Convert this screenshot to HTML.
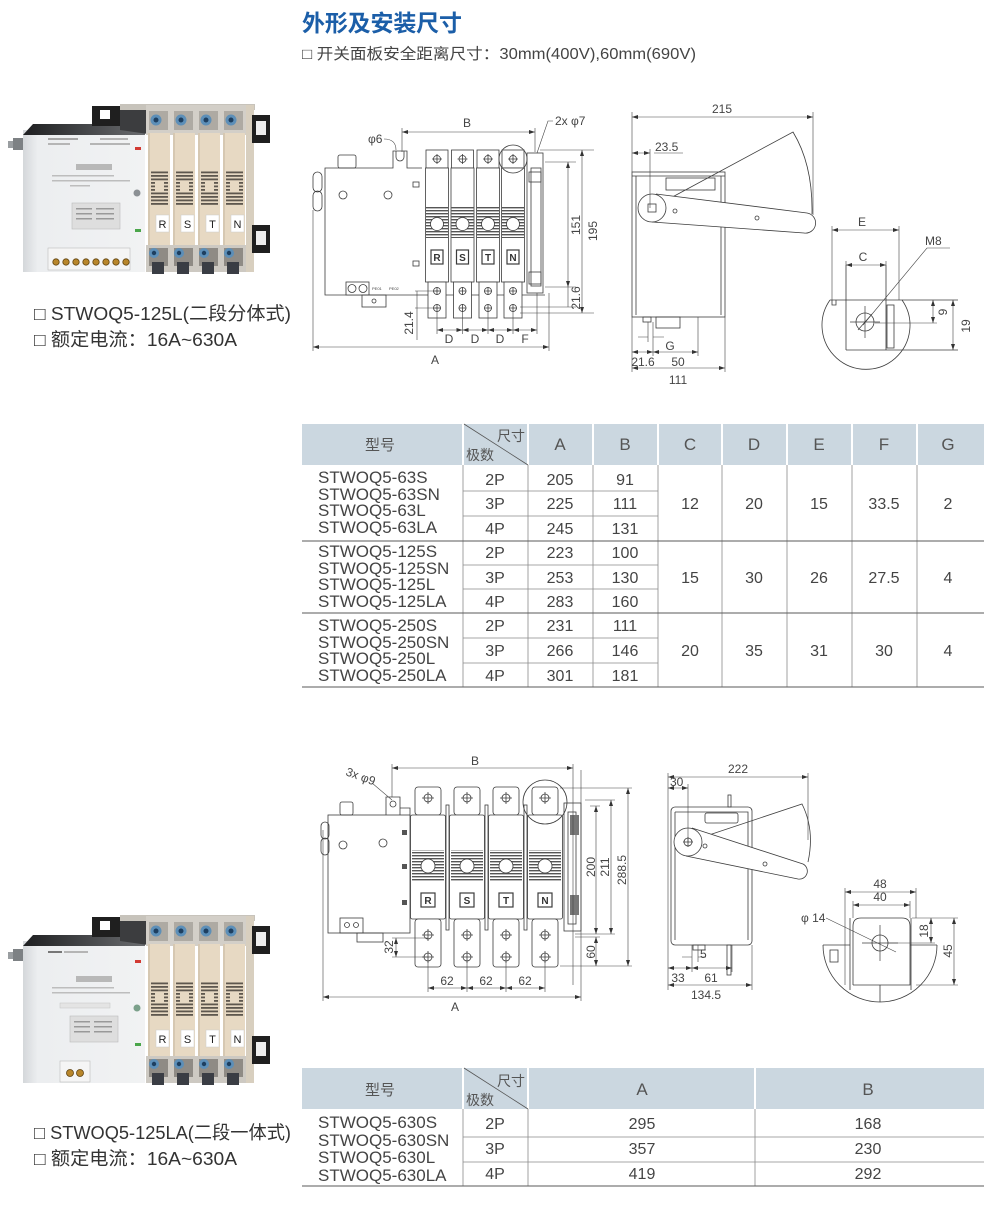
<!DOCTYPE html>
<html><head><meta charset="utf-8">
<style>
html,body{margin:0;padding:0;background:#fff;}
svg{display:block;}
text{font-family:"Liberation Sans","Noto Sans CJK SC",sans-serif;}
.d{marker-start:url(#ar);marker-end:url(#ar);}
.dt{font-size:12px;fill:#444;stroke:none;}
.lb{font-size:10px;font-weight:bold;fill:#333;stroke:none;text-anchor:middle;}
.tc{font-size:16px;fill:#444;text-anchor:middle;}
.th{font-size:17px;fill:#555;text-anchor:middle;}
.tm{font-size:17px;fill:#444;}
</style></head><body>
<svg width="1000" height="1227" viewBox="0 0 1000 1227" xmlns="http://www.w3.org/2000/svg">
<defs>
<marker id="ar" viewBox="0 0 6 4" refX="6" refY="2" markerWidth="6" markerHeight="4" markerUnits="userSpaceOnUse" orient="auto-start-reverse"><path d="M0,0 L6,2 L0,4 z" fill="#333"/></marker>
<pattern id="gr" width="4" height="3" patternUnits="userSpaceOnUse"><rect width="4" height="1.4" fill="#555"/></pattern>
<pattern id="pg" width="4" height="3.5" patternUnits="userSpaceOnUse"><rect width="4" height="1.8" fill="#5e574e"/></pattern>
<linearGradient id="box" x1="0" x2="1" y1="0" y2="0"><stop offset="0" stop-color="#d4d7da"/><stop offset="0.12" stop-color="#eceef0"/><stop offset="1" stop-color="#f1f2f3"/></linearGradient>
<linearGradient id="topb" x1="0" x2="1" y1="0" y2="0"><stop offset="0" stop-color="#1e1f21"/><stop offset="1" stop-color="#6a6c6f"/></linearGradient>
</defs>

<!-- Title -->
<text x="302" y="31" font-size="23" font-weight="bold" fill="#1b5ea8" textLength="160">外形及安装尺寸</text>
<text x="302" y="59" font-size="15.5" fill="#444" textLength="394" lengthAdjust="spacingAndGlyphs">□ 开关面板安全距离尺寸：30mm(400V),60mm(690V)</text>

<!-- ===== Top photo ===== -->
<g id="ph1">
<rect x="8" y="141" width="7" height="7" fill="#9a9ea1"/>
<rect x="13" y="138" width="12" height="12" fill="#7d8184"/>
<rect x="23" y="130" width="122" height="142" fill="url(#box)"/>
<polygon points="23,135 33,124 122,124 145,129 145,135" fill="url(#topb)"/>
<rect x="48" y="138" width="30" height="2" fill="#a5a5a5"/>
<rect x="48" y="143" width="22" height="2" fill="#b5b5b5"/>
<rect x="100" y="138" width="28" height="2" fill="#b5b5b5"/>
<rect x="90" y="143" width="40" height="2" fill="#b5b5b5"/>
<rect x="76" y="164" width="36" height="6" fill="#b8b8b8"/>
<rect x="52" y="175" width="62" height="1.5" fill="#bdbdbd"/>
<rect x="52" y="180" width="78" height="1.5" fill="#bdbdbd"/>
<rect x="70" y="185" width="20" height="1.5" fill="#bdbdbd"/>
<rect x="72" y="203" width="48" height="26" fill="#dedede" stroke="#bbb" stroke-width="0.6"/>
<rect x="76" y="208" width="16" height="1.5" fill="#999"/><rect x="96" y="208" width="18" height="1.5" fill="#999"/>
<rect x="76" y="213" width="16" height="1.5" fill="#999"/><rect x="96" y="213" width="18" height="1.5" fill="#999"/>
<rect x="76" y="218" width="16" height="1.5" fill="#999"/><rect x="96" y="218" width="18" height="1.5" fill="#999"/>
<circle cx="137" cy="193" r="3.5" fill="#8b9094"/>
<rect x="135" y="147" width="6" height="3" fill="#d23a32"/>
<rect x="135" y="229" width="6" height="3" fill="#4aa64a"/>
<rect x="48" y="248" width="82" height="22" fill="#f5f5f5" stroke="#bbb" stroke-width="0.6"/>
<g fill="#b8862b" stroke="#5e4210" stroke-width="0.8">
<circle cx="56" cy="262" r="3.2"/><circle cx="66" cy="262" r="3.2"/><circle cx="76" cy="262" r="3.2"/><circle cx="86" cy="262" r="3.2"/><circle cx="96" cy="262" r="3.2"/><circle cx="106" cy="262" r="3.2"/><circle cx="116" cy="262" r="3.2"/><circle cx="126" cy="262" r="3.2"/>
</g>
<path d="M92,106 H122 V126 H92 Z M100,110 V119 H110 V110 Z" fill="#1f1f1f" fill-rule="evenodd"/>
<polygon points="120,106 148,104 148,134 120,130" fill="#3c3d3f"/>
<rect x="120" y="104" width="135" height="6" fill="#c7c3bb"/>
<g>
<rect x="146" y="105" width="25" height="30" fill="#d3cfc8"/><rect x="149" y="111" width="19" height="19" fill="#aeaaa3"/>
<circle cx="156" cy="120" r="5.5" fill="#5d8fb8"/><circle cx="156" cy="120" r="2.5" fill="#1e3f60"/>
<rect x="148" y="133" width="22" height="112" fill="#e7d9c3"/><rect x="148" y="133" width="2" height="112" fill="#d6c8b2"/>
<rect x="151" y="170" width="17" height="35" fill="url(#pg)"/><rect x="155" y="182" width="9" height="10" fill="#e7d9c3"/>
<rect x="156" y="215" width="13" height="17" fill="#fff" stroke="#ccc" stroke-width="0.5"/><text x="162.5" y="228" font-size="11" fill="#222" text-anchor="middle">R</text>
<rect x="146" y="245" width="25" height="27" fill="#cdc9c2"/><rect x="149" y="248" width="19" height="18" fill="#8f8b85"/>
<circle cx="154" cy="253" r="5" fill="#5d8fb8"/><circle cx="154" cy="253" r="2.2" fill="#1e3f60"/>
<rect x="152" y="262" width="12" height="12" fill="#3a3d44"/>
</g>
<g>
<rect x="171" y="105" width="25" height="30" fill="#d3cfc8"/><rect x="174" y="111" width="19" height="19" fill="#aeaaa3"/>
<circle cx="181" cy="120" r="5.5" fill="#5d8fb8"/><circle cx="181" cy="120" r="2.5" fill="#1e3f60"/>
<rect x="173" y="133" width="22" height="112" fill="#e7d9c3"/><rect x="173" y="133" width="2" height="112" fill="#d6c8b2"/>
<rect x="176" y="170" width="17" height="35" fill="url(#pg)"/><rect x="180" y="182" width="9" height="10" fill="#e7d9c3"/>
<rect x="181" y="215" width="13" height="17" fill="#fff" stroke="#ccc" stroke-width="0.5"/><text x="187.5" y="228" font-size="11" fill="#222" text-anchor="middle">S</text>
<rect x="171" y="245" width="25" height="27" fill="#cdc9c2"/><rect x="174" y="248" width="19" height="18" fill="#8f8b85"/>
<circle cx="179" cy="253" r="5" fill="#5d8fb8"/><circle cx="179" cy="253" r="2.2" fill="#1e3f60"/>
<rect x="177" y="262" width="12" height="12" fill="#3a3d44"/>
</g>
<g>
<rect x="196" y="105" width="25" height="30" fill="#d3cfc8"/><rect x="199" y="111" width="19" height="19" fill="#aeaaa3"/>
<circle cx="206" cy="120" r="5.5" fill="#5d8fb8"/><circle cx="206" cy="120" r="2.5" fill="#1e3f60"/>
<rect x="198" y="133" width="22" height="112" fill="#e7d9c3"/><rect x="198" y="133" width="2" height="112" fill="#d6c8b2"/>
<rect x="201" y="170" width="17" height="35" fill="url(#pg)"/><rect x="205" y="182" width="9" height="10" fill="#e7d9c3"/>
<rect x="206" y="215" width="13" height="17" fill="#fff" stroke="#ccc" stroke-width="0.5"/><text x="212.5" y="228" font-size="11" fill="#222" text-anchor="middle">T</text>
<rect x="196" y="245" width="25" height="27" fill="#cdc9c2"/><rect x="199" y="248" width="19" height="18" fill="#8f8b85"/>
<circle cx="204" cy="253" r="5" fill="#5d8fb8"/><circle cx="204" cy="253" r="2.2" fill="#1e3f60"/>
<rect x="202" y="262" width="12" height="12" fill="#3a3d44"/>
</g>
<g>
<rect x="221" y="105" width="25" height="30" fill="#d3cfc8"/><rect x="224" y="111" width="19" height="19" fill="#aeaaa3"/>
<circle cx="231" cy="120" r="5.5" fill="#5d8fb8"/><circle cx="231" cy="120" r="2.5" fill="#1e3f60"/>
<rect x="223" y="133" width="22" height="112" fill="#e7d9c3"/><rect x="223" y="133" width="2" height="112" fill="#d6c8b2"/>
<rect x="226" y="170" width="17" height="35" fill="url(#pg)"/><rect x="230" y="182" width="9" height="10" fill="#e7d9c3"/>
<rect x="231" y="215" width="13" height="17" fill="#fff" stroke="#ccc" stroke-width="0.5"/><text x="237.5" y="228" font-size="11" fill="#222" text-anchor="middle">N</text>
<rect x="221" y="245" width="25" height="27" fill="#cdc9c2"/><rect x="224" y="248" width="19" height="18" fill="#8f8b85"/>
<circle cx="229" cy="253" r="5" fill="#5d8fb8"/><circle cx="229" cy="253" r="2.2" fill="#1e3f60"/>
<rect x="227" y="262" width="12" height="12" fill="#3a3d44"/>
</g>
<rect x="246" y="105" width="8" height="167" fill="#d8cfbf"/>
<rect x="252" y="115" width="18" height="28" fill="#1f1f1f"/><rect x="256" y="121" width="10" height="14" fill="#eee"/>
<rect x="252" y="225" width="18" height="28" fill="#1f1f1f"/><rect x="256" y="231" width="10" height="14" fill="#eee"/>
</g>
<text x="34" y="320" font-size="18.5" fill="#333" textLength="257" lengthAdjust="spacingAndGlyphs">□ STWOQ5-125L(二段分体式)</text>
<text x="34" y="346" font-size="18.5" fill="#333" textLength="203" lengthAdjust="spacingAndGlyphs">□ 额定电流：16A~630A</text>

<!-- ===== Bottom photo ===== -->
<g transform="translate(0,811)">
<rect x="8" y="141" width="7" height="7" fill="#9a9ea1"/>
<rect x="13" y="138" width="12" height="12" fill="#7d8184"/>
<rect x="23" y="130" width="122" height="142" fill="url(#box)"/>
<polygon points="23,135 33,124 122,124 145,129 145,135" fill="url(#topb)"/>
<rect x="48" y="140" width="14" height="2" fill="#777"/>
<rect x="64" y="140" width="24" height="2" fill="#b5b5b5"/>
<rect x="76" y="165" width="36" height="6" fill="#b8b8b8"/>
<rect x="52" y="176" width="62" height="1.5" fill="#bdbdbd"/>
<rect x="52" y="181" width="78" height="1.5" fill="#bdbdbd"/>
<rect x="60" y="192" width="50" height="5" fill="#e4e4e4" stroke="#c4c4c4" stroke-width="0.5"/>
<rect x="70" y="205" width="48" height="26" fill="#dedede" stroke="#bbb" stroke-width="0.6"/>
<rect x="74" y="210" width="16" height="1.5" fill="#999"/><rect x="94" y="210" width="18" height="1.5" fill="#999"/>
<rect x="74" y="215" width="16" height="1.5" fill="#999"/><rect x="94" y="215" width="18" height="1.5" fill="#999"/>
<rect x="74" y="220" width="16" height="1.5" fill="#999"/><rect x="94" y="220" width="18" height="1.5" fill="#999"/>
<circle cx="137" cy="197" r="3.5" fill="#7aa08a"/>
<rect x="135" y="149" width="6" height="3" fill="#d23a32"/>
<rect x="135" y="232" width="6" height="3" fill="#4aa64a"/>
<rect x="60" y="250" width="30" height="21" fill="#f5f5f5" stroke="#bbb" stroke-width="0.6"/>
<circle cx="70" cy="262" r="3.5" fill="#b8862b" stroke="#5e4210" stroke-width="0.8"/><circle cx="80" cy="262" r="3.5" fill="#b8862b" stroke="#5e4210" stroke-width="0.8"/>
<path d="M92,106 H122 V126 H92 Z M100,110 V119 H110 V110 Z" fill="#1f1f1f" fill-rule="evenodd"/>
<polygon points="120,106 148,104 148,134 120,130" fill="#3c3d3f"/>
<rect x="120" y="104" width="135" height="6" fill="#c7c3bb"/>
<g>
<rect x="146" y="105" width="25" height="30" fill="#d3cfc8"/><rect x="149" y="111" width="19" height="19" fill="#aeaaa3"/>
<circle cx="156" cy="120" r="5.5" fill="#5d8fb8"/><circle cx="156" cy="120" r="2.5" fill="#1e3f60"/>
<rect x="148" y="133" width="22" height="112" fill="#e7d9c3"/><rect x="148" y="133" width="2" height="112" fill="#d6c8b2"/>
<rect x="151" y="170" width="17" height="35" fill="url(#pg)"/><rect x="155" y="182" width="9" height="10" fill="#e7d9c3"/>
<rect x="156" y="219" width="13" height="17" fill="#fff" stroke="#ccc" stroke-width="0.5"/><text x="162.5" y="232" font-size="11" fill="#222" text-anchor="middle">R</text>
<rect x="146" y="245" width="25" height="27" fill="#cdc9c2"/><rect x="149" y="248" width="19" height="18" fill="#8f8b85"/>
<circle cx="154" cy="253" r="5" fill="#5d8fb8"/><circle cx="154" cy="253" r="2.2" fill="#1e3f60"/>
<rect x="152" y="262" width="12" height="12" fill="#3a3d44"/>
</g>
<g>
<rect x="171" y="105" width="25" height="30" fill="#d3cfc8"/><rect x="174" y="111" width="19" height="19" fill="#aeaaa3"/>
<circle cx="181" cy="120" r="5.5" fill="#5d8fb8"/><circle cx="181" cy="120" r="2.5" fill="#1e3f60"/>
<rect x="173" y="133" width="22" height="112" fill="#e7d9c3"/><rect x="173" y="133" width="2" height="112" fill="#d6c8b2"/>
<rect x="176" y="170" width="17" height="35" fill="url(#pg)"/><rect x="180" y="182" width="9" height="10" fill="#e7d9c3"/>
<rect x="181" y="219" width="13" height="17" fill="#fff" stroke="#ccc" stroke-width="0.5"/><text x="187.5" y="232" font-size="11" fill="#222" text-anchor="middle">S</text>
<rect x="171" y="245" width="25" height="27" fill="#cdc9c2"/><rect x="174" y="248" width="19" height="18" fill="#8f8b85"/>
<circle cx="179" cy="253" r="5" fill="#5d8fb8"/><circle cx="179" cy="253" r="2.2" fill="#1e3f60"/>
<rect x="177" y="262" width="12" height="12" fill="#3a3d44"/>
</g>
<g>
<rect x="196" y="105" width="25" height="30" fill="#d3cfc8"/><rect x="199" y="111" width="19" height="19" fill="#aeaaa3"/>
<circle cx="206" cy="120" r="5.5" fill="#5d8fb8"/><circle cx="206" cy="120" r="2.5" fill="#1e3f60"/>
<rect x="198" y="133" width="22" height="112" fill="#e7d9c3"/><rect x="198" y="133" width="2" height="112" fill="#d6c8b2"/>
<rect x="201" y="170" width="17" height="35" fill="url(#pg)"/><rect x="205" y="182" width="9" height="10" fill="#e7d9c3"/>
<rect x="206" y="219" width="13" height="17" fill="#fff" stroke="#ccc" stroke-width="0.5"/><text x="212.5" y="232" font-size="11" fill="#222" text-anchor="middle">T</text>
<rect x="196" y="245" width="25" height="27" fill="#cdc9c2"/><rect x="199" y="248" width="19" height="18" fill="#8f8b85"/>
<circle cx="204" cy="253" r="5" fill="#5d8fb8"/><circle cx="204" cy="253" r="2.2" fill="#1e3f60"/>
<rect x="202" y="262" width="12" height="12" fill="#3a3d44"/>
</g>
<g>
<rect x="221" y="105" width="25" height="30" fill="#d3cfc8"/><rect x="224" y="111" width="19" height="19" fill="#aeaaa3"/>
<circle cx="231" cy="120" r="5.5" fill="#5d8fb8"/><circle cx="231" cy="120" r="2.5" fill="#1e3f60"/>
<rect x="223" y="133" width="22" height="112" fill="#e7d9c3"/><rect x="223" y="133" width="2" height="112" fill="#d6c8b2"/>
<rect x="226" y="170" width="17" height="35" fill="url(#pg)"/><rect x="230" y="182" width="9" height="10" fill="#e7d9c3"/>
<rect x="231" y="219" width="13" height="17" fill="#fff" stroke="#ccc" stroke-width="0.5"/><text x="237.5" y="232" font-size="11" fill="#222" text-anchor="middle">N</text>
<rect x="221" y="245" width="25" height="27" fill="#cdc9c2"/><rect x="224" y="248" width="19" height="18" fill="#8f8b85"/>
<circle cx="229" cy="253" r="5" fill="#5d8fb8"/><circle cx="229" cy="253" r="2.2" fill="#1e3f60"/>
<rect x="227" y="262" width="12" height="12" fill="#3a3d44"/>
</g>
<rect x="246" y="105" width="8" height="167" fill="#d8cfbf"/>
<rect x="252" y="115" width="18" height="28" fill="#1f1f1f"/><rect x="256" y="121" width="10" height="14" fill="#eee"/>
<rect x="252" y="225" width="18" height="28" fill="#1f1f1f"/><rect x="256" y="231" width="10" height="14" fill="#eee"/>
</g>
<text x="34" y="1139" font-size="18.5" fill="#333" textLength="257" lengthAdjust="spacingAndGlyphs">□ STWOQ5-125LA(二段一体式)</text>
<text x="34" y="1165" font-size="18.5" fill="#333" textLength="203" lengthAdjust="spacingAndGlyphs">□ 额定电流：16A~630A</text>

<!-- ===== Drawing 1 (top front view) ===== -->
<g fill="none" stroke="#3c3c3c" stroke-width="0.8">
<path d="M422,168 H407 V151 H393 V168 H325 V295 H545"/>
<path d="M396,151 v6 a4,4 0 0 0 8,0 v-6"/>
<rect x="338" y="155" width="18" height="13" rx="2"/>
<rect x="313" y="172" width="9" height="20" rx="4.5"/>
<rect x="313" y="191" width="9" height="20" rx="4.5"/>
<circle cx="343" cy="195" r="4"/><circle cx="388" cy="195" r="4"/>
<rect x="413" y="182" width="6" height="5"/><rect x="413" y="261" width="6" height="5"/>
<rect x="346" y="282" width="23" height="13" fill="#fff"/>
<circle cx="352" cy="288.5" r="4"/><circle cx="363" cy="288.5" r="4"/>
<rect x="362" y="295" width="24" height="12"/>
<circle cx="374" cy="301" r="2"/>
<g>
<rect x="426" y="150" width="22" height="18"/><circle cx="437" cy="159" r="3.5"/><path d="M437,154v10M432,159h10"/>
<rect x="425.5" y="168" width="23" height="114" fill="#fff"/>
<rect x="426" y="207" width="22" height="31" fill="url(#gr)" stroke="none"/>
<circle cx="437" cy="224" r="6.5" fill="#fff"/>
<rect x="431" y="250" width="12" height="14" stroke-width="1.2"/>
<rect x="428" y="282" width="18" height="36" fill="#fff"/>
<circle cx="437" cy="291" r="3.5"/><circle cx="437" cy="308" r="3.5"/><path d="M437,287v8M433,291h8M437,304v8M433,308h8"/>
</g>
<g>
<rect x="451.5" y="150" width="22" height="18"/><circle cx="462.5" cy="159" r="3.5"/><path d="M462.5,154v10M457.5,159h10"/>
<rect x="451" y="168" width="23" height="114" fill="#fff"/>
<rect x="451.5" y="207" width="22" height="31" fill="url(#gr)" stroke="none"/>
<circle cx="462.5" cy="224" r="6.5" fill="#fff"/>
<rect x="456.5" y="250" width="12" height="14" stroke-width="1.2"/>
<rect x="453.5" y="282" width="18" height="36" fill="#fff"/>
<circle cx="462.5" cy="291" r="3.5"/><circle cx="462.5" cy="308" r="3.5"/><path d="M462.5,287v8M458.5,291h8M462.5,304v8M458.5,308h8"/>
</g>
<g>
<rect x="477" y="150" width="22" height="18"/><circle cx="488" cy="159" r="3.5"/><path d="M488,154v10M483,159h10"/>
<rect x="476.5" y="168" width="23" height="114" fill="#fff"/>
<rect x="477" y="207" width="22" height="31" fill="url(#gr)" stroke="none"/>
<circle cx="488" cy="224" r="6.5" fill="#fff"/>
<rect x="482" y="250" width="12" height="14" stroke-width="1.2"/>
<rect x="479" y="282" width="18" height="36" fill="#fff"/>
<circle cx="488" cy="291" r="3.5"/><circle cx="488" cy="308" r="3.5"/><path d="M488,287v8M484,291h8M488,304v8M484,308h8"/>
</g>
<g>
<rect x="502" y="150" width="22" height="18"/><circle cx="513" cy="159" r="3.5"/><path d="M513,154v10M508,159h10"/>
<rect x="501.5" y="168" width="23" height="114" fill="#fff"/>
<rect x="502" y="207" width="22" height="31" fill="url(#gr)" stroke="none"/>
<circle cx="513" cy="224" r="6.5" fill="#fff"/>
<rect x="507" y="250" width="12" height="14" stroke-width="1.2"/>
<rect x="504" y="282" width="18" height="36" fill="#fff"/>
<circle cx="513" cy="291" r="3.5"/><circle cx="513" cy="308" r="3.5"/><path d="M513,287v8M509,291h8M513,304v8M509,308h8"/>
</g>
<rect x="527" y="153" width="16" height="140"/>
<rect x="531" y="168" width="10" height="118"/>
<rect x="529" y="172" width="12" height="10"/><rect x="529" y="272" width="12" height="12"/>
<circle cx="513" cy="159" r="14"/>
</g>
<text x="437" y="261" class="lb">R</text><text x="462.5" y="261" class="lb">S</text><text x="488" y="261" class="lb">T</text><text x="513" y="261" class="lb">N</text>
<text x="372" y="290" font-size="4" fill="#444">PE01</text><text x="389" y="290" font-size="4" fill="#444">PE02</text>
<g fill="none" stroke="#444" stroke-width="0.6">
<line class="d" x1="402" y1="132" x2="535" y2="132"/>
<path d="M402,128 V152 M535,128 V152"/>
<path d="M553,121 H548 L537,153"/>
<path d="M384,139 Q396,139 396,150"/>
<path d="M540,150 H594 M520,313 H594 M545,162 H576 M545,287 H576 M520,307 H576"/>
<line class="d" x1="582" y1="150" x2="582" y2="313"/>
<line class="d" x1="568" y1="162" x2="568" y2="287"/>
<line x1="568" y1="287" x2="568" y2="307"/>
<path d="M415,291 H440 M415,308 H440"/>
<line x1="417" y1="291" x2="417" y2="340"/>
<line class="d" x1="437" y1="330" x2="462.5" y2="330"/>
<line class="d" x1="462.5" y1="330" x2="488" y2="330"/>
<line class="d" x1="488" y1="330" x2="513" y2="330"/>
<line class="d" x1="513" y1="330" x2="537" y2="330"/>
<path d="M437,312 V334 M462.5,312 V334 M488,312 V334 M513,312 V334 M537,293 V334"/>
<line x1="313" y1="210" x2="313" y2="351"/>
<line class="d" x1="313" y1="347" x2="549" y2="347"/>
<line x1="549" y1="293" x2="549" y2="351"/>
</g>
<text x="467" y="127" class="dt" text-anchor="middle">B</text>
<text x="555" y="125" class="dt">2x φ7</text>
<text x="368" y="143" class="dt">φ6</text>
<text class="dt" text-anchor="middle" transform="translate(597,231) rotate(-90)">195</text>
<text class="dt" text-anchor="middle" transform="translate(580,225) rotate(-90)">151</text>
<text class="dt" text-anchor="middle" transform="translate(580,298) rotate(-90)">21.6</text>
<text class="dt" text-anchor="middle" transform="translate(413,323) rotate(-90)">21.4</text>
<text x="449" y="343" class="dt" text-anchor="middle">D</text>
<text x="475" y="343" class="dt" text-anchor="middle">D</text>
<text x="500" y="343" class="dt" text-anchor="middle">D</text>
<text x="525" y="343" class="dt" text-anchor="middle">F</text>
<text x="435" y="364" class="dt" text-anchor="middle">A</text>

<!-- ===== Drawing 2 (top side view) ===== -->
<g fill="none" stroke="#3c3c3c" stroke-width="0.8">
<rect x="632" y="172" width="93" height="145"/>
<path d="M636,176 V315 M721,176 V315 M632,176 H725"/>
<rect x="666" y="178" width="49" height="12"/>
<path d="M652,208 L793,132 Q813,165 812,214"/>
<path d="M656,194 L807,213 A10,10 0 0 1 804,233 L652,222" fill="#fff"/>
<circle cx="652" cy="208" r="14" fill="#fff"/>
<rect x="648" y="204" width="8" height="8"/>
<circle cx="675" cy="211" r="2"/><circle cx="757" cy="218" r="2"/>
<rect x="656" y="317" width="24" height="11"/>
<rect x="643" y="317" width="8" height="5"/>
</g>
<g fill="none" stroke="#444" stroke-width="0.6">
<line class="d" x1="632" y1="117" x2="813" y2="117"/>
<path d="M632,112 V172 M813,112 V215"/>
<line class="d" x1="632" y1="153" x2="650" y2="153"/>
<path d="M650,149 V208 M654,153 H683"/>
<path d="M698,317 V356 M653,322 V356 M648,322 V342"/>
<path d="M638,337 H648 M653,337 H664"/>
<line class="d" x1="632" y1="352" x2="653" y2="352"/>
<line class="d" x1="653" y1="352" x2="698" y2="352"/>
<line class="d" x1="632" y1="368" x2="725" y2="368"/>
<path d="M632,317 V372 M725,317 V372"/>
</g>
<text x="722" y="113" class="dt" text-anchor="middle">215</text>
<text x="655" y="151" class="dt">23.5</text>
<text x="670" y="350" class="dt" text-anchor="middle">G</text>
<text x="643" y="366" class="dt" text-anchor="middle">21.6</text>
<text x="678" y="366" class="dt" text-anchor="middle">50</text>
<text x="678" y="384" class="dt" text-anchor="middle">111</text>

<!-- Detail 1 -->
<g fill="none" stroke="#3c3c3c" stroke-width="0.8">
<path d="M830,300 A44,44 0 1 0 902,300"/>
<path d="M830,300 H958 M846,265 V350 M886,265 V350 M846,350 H958"/>
<rect x="887" y="305" width="7" height="43"/>
<path d="M832,300 v5 h4 v-5"/>
<circle cx="865" cy="322" r="9"/>
<path d="M850,322 H880 M865,306 V338 M858,330 L872,314" stroke-width="0.7"/>
</g>
<g fill="none" stroke="#444" stroke-width="0.6">
<line class="d" x1="832" y1="230" x2="899" y2="230"/>
<path d="M832,226 V300 M899,226 V300"/>
<line class="d" x1="846" y1="265" x2="886" y2="265"/>
<path d="M846,261 V265 M886,261 V265"/>
<path d="M875,323 H937"/>
<line class="d" x1="933" y1="300" x2="933" y2="323"/>
<line class="d" x1="953" y1="300" x2="953" y2="350"/>
<path d="M950,248 H927 L863,325"/>
</g>
<text x="862" y="226" class="dt" text-anchor="middle">E</text>
<text x="863" y="261" class="dt" text-anchor="middle">C</text>
<text x="925" y="245" class="dt">M8</text>
<text class="dt" text-anchor="middle" transform="translate(947,312) rotate(-90)">9</text>
<text class="dt" text-anchor="middle" transform="translate(970,326) rotate(-90)">19</text>

<!-- ===== Table 1 ===== -->
<rect x="302" y="424" width="682" height="41" fill="#cbd7e0"/>
<g stroke="#fff" stroke-width="2">
<path d="M463,424 V465 M528,424 V465 M593,424 V465 M658,424 V465 M722,424 V465 M787,424 V465 M852,424 V465 M917,424 V465"/>
</g>
<line x1="464" y1="424" x2="528" y2="465" stroke="#555" stroke-width="0.8"/>
<text x="380" y="450" font-size="15" fill="#555" text-anchor="middle">型号</text>
<text x="525" y="441" font-size="14" fill="#555" text-anchor="end">尺寸</text>
<text x="466" y="460" font-size="14" fill="#555">极数</text>
<text x="560" y="450" class="th">A</text><text x="625" y="450" class="th">B</text><text x="690" y="450" class="th">C</text><text x="754" y="450" class="th">D</text><text x="819" y="450" class="th">E</text><text x="884" y="450" class="th">F</text><text x="948" y="450" class="th">G</text>
<g stroke="#8a8a8a" stroke-width="0.8" fill="none">
<path d="M463,465 V687 M528,465 V687 M593,465 V687 M658,465 V687 M722,465 V687 M787,465 V687 M852,465 V687 M917,465 V687"/>
<path d="M463,491 H658 M463,516 H658 M463,565 H658 M463,589 H658 M463,638 H658 M463,663 H658"/>
</g>
<g stroke="#5a5a5a" stroke-width="1">
<path d="M302,541 H984 M302,613 H984 M302,687 H984"/>
</g>
<text x="318" y="483" class="tm">STWOQ5-63S</text>
<text x="318" y="500" class="tm">STWOQ5-63SN</text>
<text x="318" y="516" class="tm">STWOQ5-63L</text>
<text x="318" y="533" class="tm">STWOQ5-63LA</text>
<text x="318" y="557" class="tm">STWOQ5-125S</text>
<text x="318" y="574" class="tm">STWOQ5-125SN</text>
<text x="318" y="590" class="tm">STWOQ5-125L</text>
<text x="318" y="607" class="tm">STWOQ5-125LA</text>
<text x="318" y="631" class="tm">STWOQ5-250S</text>
<text x="318" y="648" class="tm">STWOQ5-250SN</text>
<text x="318" y="664" class="tm">STWOQ5-250L</text>
<text x="318" y="681" class="tm">STWOQ5-250LA</text>
<text x="495" y="485" class="tc">2P</text><text x="560" y="485" class="tc">205</text><text x="625" y="485" class="tc">91</text>
<text x="495" y="509" class="tc">3P</text><text x="560" y="509" class="tc">225</text><text x="625" y="509" class="tc">111</text>
<text x="495" y="534" class="tc">4P</text><text x="560" y="534" class="tc">245</text><text x="625" y="534" class="tc">131</text>
<text x="495" y="558" class="tc">2P</text><text x="560" y="558" class="tc">223</text><text x="625" y="558" class="tc">100</text>
<text x="495" y="583" class="tc">3P</text><text x="560" y="583" class="tc">253</text><text x="625" y="583" class="tc">130</text>
<text x="495" y="607" class="tc">4P</text><text x="560" y="607" class="tc">283</text><text x="625" y="607" class="tc">160</text>
<text x="495" y="631" class="tc">2P</text><text x="560" y="631" class="tc">231</text><text x="625" y="631" class="tc">111</text>
<text x="495" y="656" class="tc">3P</text><text x="560" y="656" class="tc">266</text><text x="625" y="656" class="tc">146</text>
<text x="495" y="681" class="tc">4P</text><text x="560" y="681" class="tc">301</text><text x="625" y="681" class="tc">181</text>
<text x="690" y="509" class="tc">12</text><text x="754" y="509" class="tc">20</text><text x="819" y="509" class="tc">15</text><text x="884" y="509" class="tc">33.5</text><text x="948" y="509" class="tc">2</text>
<text x="690" y="583" class="tc">15</text><text x="754" y="583" class="tc">30</text><text x="819" y="583" class="tc">26</text><text x="884" y="583" class="tc">27.5</text><text x="948" y="583" class="tc">4</text>
<text x="690" y="656" class="tc">20</text><text x="754" y="656" class="tc">35</text><text x="819" y="656" class="tc">31</text><text x="884" y="656" class="tc">30</text><text x="948" y="656" class="tc">4</text>

<!-- ===== Drawing 3 (bottom front view) ===== -->
<g fill="none" stroke="#3c3c3c" stroke-width="0.8">
<rect x="328" y="815" width="82" height="118"/>
<rect x="321" y="822" width="8" height="17" rx="4"/><rect x="321" y="838" width="8" height="17" rx="4"/>
<rect x="340" y="802" width="13" height="13" rx="2"/>
<path d="M386,815 V797 H400 V815"/><circle cx="393" cy="804" r="3"/>
<path d="M400,808 H410 V815"/>
<circle cx="343" cy="845" r="4"/><circle cx="383" cy="843" r="4"/>
<rect x="340" y="918" width="23" height="15"/><circle cx="347" cy="925" r="2.5"/><circle cx="356" cy="925" r="2.5"/>
<rect x="357" y="933" width="26" height="9"/>
<g>
<rect x="415" y="787" width="26" height="28" rx="3"/><circle cx="428" cy="798" r="4"/><path d="M428,792v12M422,798h12"/>
<rect x="410.5" y="815" width="35" height="104" rx="2" fill="#fff"/>
<rect x="412" y="850" width="32" height="32" fill="url(#gr)" stroke="none"/>
<circle cx="428" cy="866" r="7" fill="#fff"/>
<rect x="421" y="893" width="14" height="14" stroke-width="1.2"/>
<rect x="415" y="919" width="26" height="48" rx="3" fill="#fff"/>
<circle cx="428" cy="935" r="4"/><circle cx="428" cy="957" r="4"/><path d="M428,929v12M422,935h12M428,951v12M422,957h12"/>
</g>
<g>
<rect x="454" y="787" width="26" height="28" rx="3"/><circle cx="467" cy="798" r="4"/><path d="M467,792v12M461,798h12"/>
<rect x="449.5" y="815" width="35" height="104" rx="2" fill="#fff"/>
<rect x="451" y="850" width="32" height="32" fill="url(#gr)" stroke="none"/>
<circle cx="467" cy="866" r="7" fill="#fff"/>
<rect x="460" y="893" width="14" height="14" stroke-width="1.2"/>
<rect x="454" y="919" width="26" height="48" rx="3" fill="#fff"/>
<circle cx="467" cy="935" r="4"/><circle cx="467" cy="957" r="4"/><path d="M467,929v12M461,935h12M467,951v12M461,957h12"/>
</g>
<g>
<rect x="493" y="787" width="26" height="28" rx="3"/><circle cx="506" cy="798" r="4"/><path d="M506,792v12M500,798h12"/>
<rect x="488.5" y="815" width="35" height="104" rx="2" fill="#fff"/>
<rect x="490" y="850" width="32" height="32" fill="url(#gr)" stroke="none"/>
<circle cx="506" cy="866" r="7" fill="#fff"/>
<rect x="499" y="893" width="14" height="14" stroke-width="1.2"/>
<rect x="493" y="919" width="26" height="48" rx="3" fill="#fff"/>
<circle cx="506" cy="935" r="4"/><circle cx="506" cy="957" r="4"/><path d="M506,929v12M500,935h12M506,951v12M500,957h12"/>
</g>
<g>
<rect x="532" y="787" width="26" height="28" rx="3"/><circle cx="545" cy="798" r="4"/><path d="M545,792v12M539,798h12"/>
<rect x="527.5" y="815" width="35" height="104" rx="2" fill="#fff"/>
<rect x="529" y="850" width="32" height="32" fill="url(#gr)" stroke="none"/>
<circle cx="545" cy="866" r="7" fill="#fff"/>
<rect x="538" y="893" width="14" height="14" stroke-width="1.2"/>
<rect x="532" y="919" width="26" height="48" rx="3" fill="#fff"/>
<circle cx="545" cy="935" r="4"/><circle cx="545" cy="957" r="4"/><path d="M545,929v12M539,935h12M545,951v12M539,957h12"/>
</g>
<rect x="446" y="805" width="3" height="125"/><rect x="485" y="805" width="3" height="125"/><rect x="524" y="805" width="3" height="125"/>
<rect x="564" y="803" width="17" height="128"/><rect x="568" y="812" width="8" height="112"/>
<rect x="570" y="815" width="9" height="20" fill="#777" stroke="none"/><rect x="570" y="895" width="9" height="20" fill="#777" stroke="none"/>
<circle cx="545" cy="802" r="22"/>
</g>
<rect x="402" y="830" width="5" height="5" fill="#555"/><rect x="402" y="864" width="5" height="5" fill="#555"/><rect x="402" y="900" width="5" height="5" fill="#555"/>
<text x="428" y="904" class="lb">R</text><text x="467" y="904" class="lb">S</text><text x="506" y="904" class="lb">T</text><text x="545" y="904" class="lb">N</text>
<g fill="none" stroke="#444" stroke-width="0.6">
<line class="d" x1="392" y1="768" x2="573" y2="768"/>
<path d="M392,764 V797 M573,764 V985"/>
<path d="M372,783 L392,800"/>
<path d="M560,788 H632 M585,800 H615 M590,806 H600 M575,934 H615 M560,966 H632 M575,937 H600"/>
<line class="d" x1="628" y1="788" x2="628" y2="966"/>
<line class="d" x1="611" y1="800" x2="611" y2="934"/>
<line class="d" x1="596" y1="806" x2="596" y2="934"/>
<line class="d" x1="596" y1="937" x2="596" y2="966"/>
<path d="M392,938 H428 M392,957 H428"/>
<line class="d" x1="396" y1="938" x2="396" y2="957"/>
<line class="d" x1="428" y1="988" x2="467" y2="988"/>
<line class="d" x1="467" y1="988" x2="506" y2="988"/>
<line class="d" x1="506" y1="988" x2="545" y2="988"/>
<path d="M428,961 V992 M467,961 V992 M506,961 V992 M545,961 V992"/>
<line x1="323" y1="830" x2="323" y2="1001"/>
<line class="d" x1="323" y1="997" x2="581" y2="997"/>
<line x1="581" y1="770" x2="581" y2="1001"/>
</g>
<text x="475" y="765" class="dt" text-anchor="middle">B</text>
<text class="dt" transform="translate(345,775) rotate(20)">3x φ9</text>
<text class="dt" text-anchor="middle" transform="translate(595,867) rotate(-90)">200</text>
<text class="dt" text-anchor="middle" transform="translate(609,867) rotate(-90)">211</text>
<text class="dt" text-anchor="middle" transform="translate(626,870) rotate(-90)">288.5</text>
<text class="dt" text-anchor="middle" transform="translate(595,952) rotate(-90)">60</text>
<text class="dt" text-anchor="middle" transform="translate(393,947) rotate(-90)">32</text>
<text x="447" y="985" class="dt" text-anchor="middle">62</text>
<text x="486" y="985" class="dt" text-anchor="middle">62</text>
<text x="525" y="985" class="dt" text-anchor="middle">62</text>
<text x="455" y="1011" class="dt" text-anchor="middle">A</text>

<!-- ===== Drawing 4 (bottom side view) ===== -->
<g fill="none" stroke="#3c3c3c" stroke-width="0.8">
<rect x="671" y="807" width="81" height="138" rx="4"/>
<path d="M675,812 V940 M675,812 H748 V940"/>
<rect x="705" y="813" width="33" height="10" rx="2"/>
<rect x="728" y="795" width="3" height="12"/>
<path d="M688,842 L802,804 Q815,830 808,862"/>
<path d="M692,828 L803,864 A8,8 0 0 1 798,879 L686,856" fill="#fff"/>
<circle cx="688" cy="842" r="14" fill="#fff"/>
<circle cx="688" cy="842" r="4"/><path d="M683,842h10M688,837v10"/>
<circle cx="705" cy="846" r="2"/><circle cx="765" cy="864" r="2"/>
<rect x="693" y="945" width="12" height="5"/>
<rect x="727" y="945" width="4" height="30"/>
</g>
<g fill="none" stroke="#444" stroke-width="0.6">
<line class="d" x1="668" y1="777" x2="808" y2="777"/>
<path d="M668,773 V990 M808,773 V840"/>
<line class="d" x1="668" y1="788" x2="688" y2="788"/>
<path d="M688,784 V842"/>
<path d="M692,945 V972 M698,945 V962"/>
<path d="M682,957 H692 M698,957 H706"/>
<line class="d" x1="668" y1="968" x2="692" y2="968"/>
<line class="d" x1="692" y1="968" x2="732" y2="968"/>
<path d="M732,945 V972"/>
<line class="d" x1="668" y1="985" x2="752" y2="985"/>
<path d="M752,945 V990"/>
</g>
<text x="738" y="773" class="dt" text-anchor="middle">222</text>
<text x="670" y="786" class="dt">30</text>
<text x="700" y="958" class="dt" font-size="11">5</text>
<text x="678" y="982" class="dt" text-anchor="middle">33</text>
<text x="711" y="982" class="dt" text-anchor="middle">61</text>
<text x="706" y="999" class="dt" text-anchor="middle">134.5</text>

<!-- Detail 2 -->
<g fill="none" stroke="#3c3c3c" stroke-width="0.8">
<path d="M853,985 V926 Q853,918 861,918 H902 Q910,918 910,926 V985 H853"/>
<path d="M823,945 H850 M910,945 H937 M823,945 A57,57 0 0 0 937,945"/>
<path d="M850,918 V990 M911,918 V990"/>
<path d="M880,985 V1002"/>
<rect x="830" y="950" width="8" height="12"/>
<circle cx="880" cy="943" r="8"/>
<path d="M862,943 H898 M880,925 V961" stroke-width="0.7"/>
</g>
<g fill="none" stroke="#444" stroke-width="0.6">
<line class="d" x1="845" y1="892" x2="916" y2="892"/>
<path d="M845,888 V985 M916,888 V918"/>
<line class="d" x1="853" y1="905" x2="910" y2="905"/>
<path d="M853,901 V918 M910,901 V918"/>
<path d="M826,918 L896,952"/>
<path d="M912,918 H958 M888,943 H935 M916,985 H958"/>
<line class="d" x1="931" y1="918" x2="931" y2="943"/>
<line class="d" x1="954" y1="918" x2="954" y2="985"/>
</g>
<text x="880" y="888" class="dt" text-anchor="middle">48</text>
<text x="880" y="901" class="dt" text-anchor="middle">40</text>
<text x="801" y="922" class="dt">φ 14</text>
<text class="dt" text-anchor="middle" transform="translate(928,931) rotate(-90)">18</text>
<text class="dt" text-anchor="middle" transform="translate(952,951) rotate(-90)">45</text>

<!-- ===== Table 2 ===== -->
<rect x="302" y="1068" width="682" height="41" fill="#cbd7e0"/>
<g stroke="#fff" stroke-width="2"><path d="M463,1068 V1109 M528,1068 V1109 M755,1068 V1109"/></g>
<line x1="464" y1="1068" x2="528" y2="1109" stroke="#555" stroke-width="0.8"/>
<text x="380" y="1095" font-size="15" fill="#555" text-anchor="middle">型号</text>
<text x="525" y="1086" font-size="14" fill="#555" text-anchor="end">尺寸</text>
<text x="466" y="1105" font-size="14" fill="#555">极数</text>
<text x="642" y="1095" class="th">A</text><text x="868" y="1095" class="th">B</text>
<g stroke="#8a8a8a" stroke-width="0.8" fill="none">
<path d="M463,1109 V1186 M528,1109 V1186 M755,1109 V1186"/>
<path d="M463,1137 H984 M463,1162 H984"/>
</g>
<line x1="302" y1="1186" x2="984" y2="1186" stroke="#5a5a5a" stroke-width="1"/>
<text x="318" y="1128" class="tm">STWOQ5-630S</text>
<text x="318" y="1146" class="tm">STWOQ5-630SN</text>
<text x="318" y="1163" class="tm">STWOQ5-630L</text>
<text x="318" y="1181" class="tm">STWOQ5-630LA</text>
<text x="495" y="1129" class="tc">2P</text><text x="642" y="1129" class="tc">295</text><text x="868" y="1129" class="tc">168</text>
<text x="495" y="1154" class="tc">3P</text><text x="642" y="1154" class="tc">357</text><text x="868" y="1154" class="tc">230</text>
<text x="495" y="1179" class="tc">4P</text><text x="642" y="1179" class="tc">419</text><text x="868" y="1179" class="tc">292</text>
</svg>
</body></html>
